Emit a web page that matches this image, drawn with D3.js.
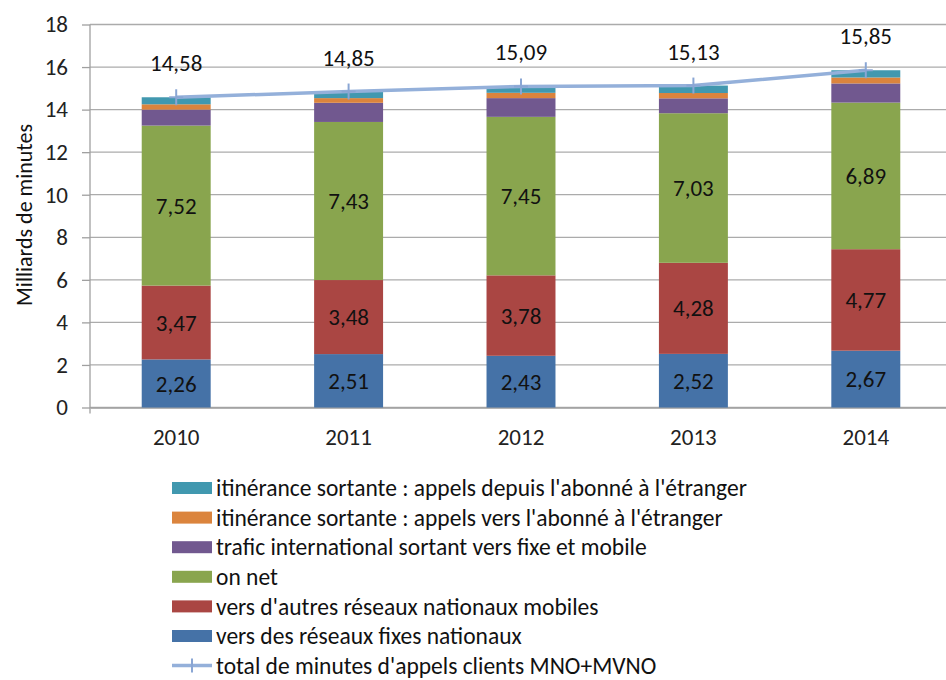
<!DOCTYPE html>
<html>
<head>
<meta charset="utf-8">
<script src="https://cdn.jsdelivr.net/npm/d3@7"></script>
<style>
  html, body { margin: 0; padding: 0; background: #fff; }
  svg { display: block; font-family: Carlito, Lato, "Open Sans", sans-serif; }
</style>
</head>
<body>
<svg id="chart" width="946" height="680"></svg>
<script>
// Mobile voice traffic, billions of minutes
const years = ["2010", "2011", "2012", "2013", "2014"];
const fixesNationaux   = [2.26, 2.51, 2.43, 2.52, 2.67];
const mobilesNationaux = [3.47, 3.48, 3.78, 4.28, 4.77];
const onNet            = [7.52, 7.43, 7.45, 7.03, 6.89];
const international    = [0.75, 0.90, 0.88, 0.70, 0.90];
const versAbonne       = [0.25, 0.22, 0.25, 0.25, 0.28];
const depuisAbonne     = [0.33, 0.31, 0.30, 0.35, 0.34];
const totalMinutes     = [14.58, 14.85, 15.09, 15.13, 15.85];
const yTicks = [0, 2, 4, 6, 8, 10, 12, 14, 16, 18];

// Stack order: bottom to top
const series = [
  { name: "vers des réseaux fixes nationaux", values: fixesNationaux, color: "#4572A7", label: true },
  { name: "vers d'autres réseaux nationaux mobiles", values: mobilesNationaux, color: "#AA4643", label: true },
  { name: "on net", values: onNet, color: "#89A54E", label: true },
  { name: "trafic international sortant vers fixe et mobile", values: international, color: "#71588F", label: false },
  { name: "itinérance sortante : appels vers l'abonné à l'étranger", values: versAbonne, color: "#DB843D", label: false },
  { name: "itinérance sortante : appels depuis l'abonné à l'étranger", values: depuisAbonne, color: "#4198AF", label: false }
];
const totalName = "total de minutes d'appels clients MNO+MVNO";
const lineColor = "#94B0DA";

const fmt = v => v.toFixed(2).replace(".", ",");
const FS = 23;

const svg = d3.select("#chart");
const plot = { left: 90, right: 952, top: 24.5, bottom: 407.5 };

const x = d3.scaleBand().domain(years).range([plot.left, plot.right])
  .paddingInner(0.6).paddingOuter(0.3);
const y = d3.scaleLinear().domain([0, 18]).range([plot.bottom, plot.top]);

// Gridlines
svg.append("g")
  .selectAll("line").data(yTicks).join("line")
  .attr("x1", plot.left).attr("x2", plot.right)
  .attr("y1", d => y(d)).attr("y2", d => y(d))
  .attr("stroke", "#ABABAB").attr("stroke-width", 1.3);

// Y axis
const yAxis = svg.append("g")
  .attr("transform", `translate(${plot.left},0)`)
  .call(d3.axisLeft(y).tickValues(yTicks).tickSize(8).tickPadding(14).tickFormat(d3.format("d")));
yAxis.select(".domain").remove();
yAxis.selectAll(".tick line").attr("stroke", "#A0A0A0").attr("stroke-width", 1.3);
yAxis.selectAll(".tick text").attr("font-size", FS).attr("fill", "#222")
  .attr("font-family", "Carlito, Lato, sans-serif");
svg.append("line")
  .attr("x1", plot.left).attr("x2", plot.left)
  .attr("y1", plot.top).attr("y2", plot.bottom + 6)
  .attr("stroke", "#A0A0A0").attr("stroke-width", 1.3);

// X axis labels
const xAxis = svg.append("g")
  .attr("transform", `translate(0,${plot.bottom})`)
  .call(d3.axisBottom(x).tickSize(0).tickPadding(21));
xAxis.select(".domain").attr("stroke", "#A0A0A0").attr("stroke-width", 1.3);
xAxis.selectAll(".tick text").attr("font-size", FS).attr("fill", "#222")
  .attr("font-family", "Carlito, Lato, sans-serif");

// Y axis title
svg.append("text")
  .attr("transform", `translate(24,215) rotate(-90)`)
  .attr("text-anchor", "middle")
  .attr("dy", "0.35em")
  .attr("font-size", 22).attr("fill", "#111")
  .text("Milliards de minutes");

// Stacked bars
const stackData = years.map((yr, i) => {
  const row = { year: yr };
  series.forEach((s, k) => row[k] = s.values[i]);
  return row;
});
const stacked = d3.stack().keys(series.map((s, k) => k))(stackData);

const layers = svg.append("g").selectAll("g").data(stacked).join("g")
  .attr("fill", (d, k) => series[k].color);
layers.selectAll("rect").data(d => d).join("rect")
  .attr("x", d => x(d.data.year))
  .attr("width", x.bandwidth())
  .attr("y", d => y(d[1]))
  .attr("height", d => y(d[0]) - y(d[1]));

// Segment value labels
stacked.forEach((layer, k) => {
  if (!series[k].label) return;
  svg.append("g").selectAll("text").data(layer).join("text")
    .attr("x", d => x(d.data.year) + x.bandwidth() / 2)
    .attr("y", d => (y(d[0]) + y(d[1])) / 2)
    .attr("dy", "0.35em")
    .attr("text-anchor", "middle")
    .attr("font-size", FS).attr("fill", "#111")
    .text(d => fmt(series[k].values[years.indexOf(d.data.year)]));
});

// Total line with + markers
const cx = yr => x(yr) + x.bandwidth() / 2;
const line = d3.line().x((d, i) => cx(years[i])).y(d => y(d));
svg.append("path")
  .datum(totalMinutes)
  .attr("d", line)
  .attr("fill", "none")
  .attr("stroke", lineColor)
  .attr("stroke-width", 3.5);
const marks = svg.append("g").selectAll("g").data(totalMinutes).join("g")
  .attr("transform", (d, i) => `translate(${cx(years[i])},${y(d)})`);
marks.append("line").attr("x1", 0).attr("x2", 0).attr("y1", -8).attr("y2", 8)
  .attr("stroke", "#8AA6D4").attr("stroke-width", 2);
marks.append("line").attr("x1", -7).attr("x2", 7).attr("y1", 0).attr("y2", 0)
  .attr("stroke", "#8AA6D4").attr("stroke-width", 2);

// Total value labels
svg.append("g").selectAll("text").data(totalMinutes).join("text")
  .attr("x", (d, i) => cx(years[i]))
  .attr("y", d => y(d) - 26)
  .attr("text-anchor", "middle")
  .attr("font-size", FS).attr("fill", "#111")
  .text(d => fmt(d));

// Legend (top to bottom: reverse stack order, then the total line)
const legendItems = series.slice().reverse().map(s => ({ name: s.name, color: s.color, type: "rect" }))
  .concat([{ name: totalName, color: lineColor, type: "line" }]);
const legend = svg.append("g").selectAll("g").data(legendItems).join("g")
  .attr("transform", (d, i) => `translate(172,${488 + i * 29.6})`);
legend.filter(d => d.type === "rect").append("rect")
  .attr("x", 0).attr("y", -6).attr("width", 40).attr("height", 12)
  .attr("fill", d => d.color);
const lg = legend.filter(d => d.type === "line");
lg.append("line").attr("x1", 0).attr("x2", 40).attr("y1", 0).attr("y2", 0)
  .attr("stroke", lineColor).attr("stroke-width", 3.5);
lg.append("line").attr("x1", 20).attr("x2", 20).attr("y1", -7).attr("y2", 7)
  .attr("stroke", "#8AA6D4").attr("stroke-width", 2);
legend.append("text")
  .attr("x", 44).attr("dy", "0.35em")
  .attr("font-size", 23.5).attr("fill", "#111")
  .text(d => d.name);
</script>
</body>
</html>
